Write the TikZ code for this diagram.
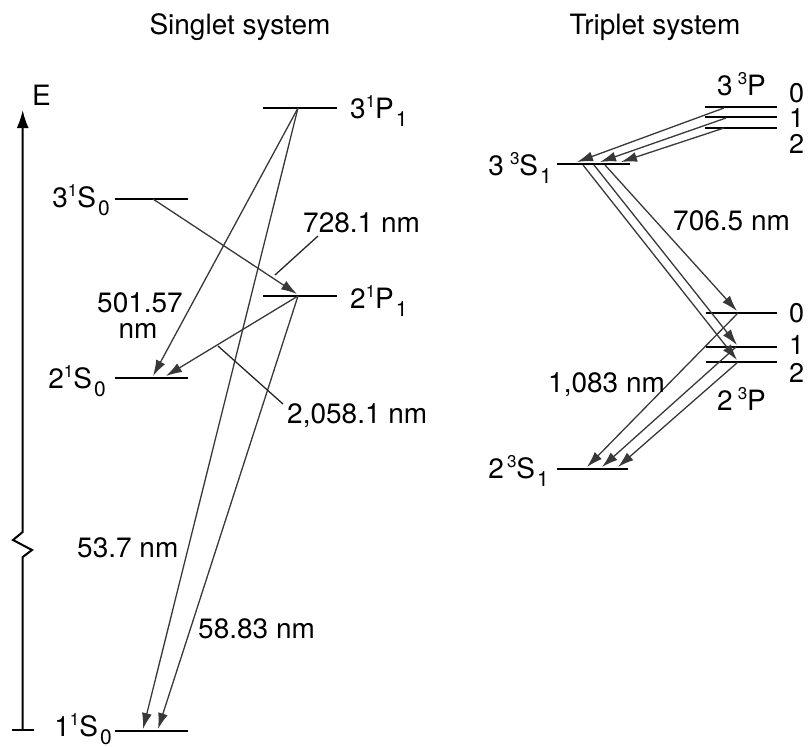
\documentclass[tikz,border=0pt]{standalone}
\usepackage{fontspec}
\setmainfont{TeX Gyre Heros}
\usetikzlibrary{arrows.meta}
\newcommand{\tsup}[1]{\raisebox{11pt}{\fontsize{17}{17}\selectfont #1}}
\newcommand{\tsub}[1]{\hspace{2pt}\raisebox{-8pt}{\fontsize{21}{21}\selectfont #1}}
\begin{document}
\begin{tikzpicture}[x=1pt,y=-1pt,
  lvl/.style={line width=2.8pt},
  tr/.style={draw=black!78, line width=1.3pt, -{Latex[length=16pt,width=10pt]}},
  lbl/.style={inner sep=0pt, font=\fontsize{28}{32}\selectfont},
  num/.style={inner sep=0pt, font=\fontsize{27}{28}\selectfont},
  lead/.style={draw=black!85, line width=1.3pt},
  axis/.style={line width=2pt}]
\useasboundingbox (0,0) rectangle (809,747);

% titles
\node[lbl,anchor=base] (t1) at (240,34) {Singlet system};
\node[lbl,anchor=base] (t2) at (655,34) {Triplet system};

% energy axis
\coordinate (ax0) at (22.7,730);
\coordinate (z1) at (22.7,557);
\coordinate (z2) at (32,550);
\coordinate (z3) at (13,540);
\coordinate (z4) at (22.7,532);
\coordinate (axtop) at (22.7,110);
\draw[axis,-{Latex[length=18pt,width=12pt]}] (ax0) -- (z1) -- (z2) -- (z3) -- (z4) -- (axtop);
\coordinate (tk1) at (12,730);
\coordinate (tk2) at (34,730);
\draw[axis] (tk1) -- (tk2);
\node[lbl,anchor=base west] (E) at (32,105) {E};

% singlet levels
\coordinate (P3l) at (263,108); \coordinate (P3r) at (337,108);
\coordinate (S3l) at (115,199); \coordinate (S3r) at (188,199);
\coordinate (P2l) at (263,296); \coordinate (P2r) at (337,296);
\coordinate (S2l) at (115,378); \coordinate (S2r) at (188,378);
\coordinate (S1l) at (115,731); \coordinate (S1r) at (188,731);
\draw[lvl] (P3l) -- (P3r);
\draw[lvl] (S3l) -- (S3r);
\draw[lvl] (P2l) -- (P2r);
\draw[lvl] (S2l) -- (S2r);
\draw[lvl] (S1l) -- (S1r);

\node[lbl,anchor=base west] (lP3) at (350,118) {3\tsup{1}P\tsub{1}};
\node[lbl,anchor=base west] (lP2) at (350,308) {2\tsup{1}P\tsub{1}};
\node[lbl,anchor=base east] (lS3) at (110,207) {3\tsup{1}S\tsub{0}};
\node[lbl,anchor=base east] (lS2) at (106,388) {2\tsup{1}S\tsub{0}};
\node[lbl,anchor=base east] (lS1) at (112,736) {1\tsup{1}S\tsub{0}};

% singlet transitions
\coordinate (aP3) at (298,108);
\coordinate (aP2) at (298,296);
\coordinate (aS3) at (153,199);
\coordinate (aP2t) at (297,294);
\coordinate (aS2a) at (153,376);
\coordinate (aS2b) at (166,376);
\coordinate (aS1a) at (143,729);
\coordinate (aS1b) at (158,729);
\draw[tr] (aS3) -- (aP2t);
\draw[tr] (aP3) -- (aS2a);
\draw[tr] (aP2) -- (aS2b);
\draw[tr] (aP3) -- (aS1a);
\draw[tr] (aP2) -- (aS1b);

% singlet wavelength labels
\node[lbl,anchor=base west] (w728) at (303,232) {728.1 nm};
\coordinate (l728a) at (318,236);
\coordinate (l728b) at (275,275);
\draw[lead] (l728a) -- (l728b);
\node[lbl,anchor=base] (w501) at (140,312) {501.57};
\node[lbl,anchor=base] (w501n) at (138,338) {nm};
\node[lbl,anchor=base west] (w2058) at (287,423) {2,058.1 nm};
\coordinate (l2058a) at (218,346);
\coordinate (l2058b) at (283,404);
\draw[lead] (l2058a) -- (l2058b);
\node[lbl,anchor=base west] (w537) at (77,557) {53.7 nm};
\node[lbl,anchor=base west] (w5883) at (198,638) {58.83 nm};

% triplet levels
\coordinate (T3P0l) at (705,107); \coordinate (T3P0r) at (777,107);
\coordinate (T3P1l) at (705,117); \coordinate (T3P1r) at (777,117);
\coordinate (T3P2l) at (705,128); \coordinate (T3P2r) at (777,128);
\coordinate (T3Sl) at (557,164); \coordinate (T3Sr) at (630,164);
\coordinate (T2P0l) at (706,313); \coordinate (T2P0r) at (777,313);
\coordinate (T2P1l) at (706,347); \coordinate (T2P1r) at (777,347);
\coordinate (T2P2l) at (706,362); \coordinate (T2P2r) at (777,362);
\coordinate (T2Sl) at (557,469); \coordinate (T2Sr) at (628,469);
\draw[lvl] (T3P0l) -- (T3P0r);
\draw[lvl] (T3P1l) -- (T3P1r);
\draw[lvl] (T3P2l) -- (T3P2r);
\draw[lvl] (T3Sl) -- (T3Sr);
\draw[lvl] (T2P0l) -- (T2P0r);
\draw[lvl] (T2P1l) -- (T2P1r);
\draw[lvl] (T2P2l) -- (T2P2r);
\draw[lvl] (T2Sl) -- (T2Sr);

\node[lbl,anchor=base west] (l3P) at (717,95) {3\hspace{5pt}\tsup{3}P};
\node[num,anchor=base west] (n30) at (789,102) {0};
\node[num,anchor=base west] (n31) at (789,127) {1};
\node[num,anchor=base west] (n32) at (789,153) {2};
\node[lbl,anchor=base east] (l3S) at (552,175) {3\hspace{6pt}\tsup{3}S\tsub{1}};
\node[num,anchor=base west] (n20) at (789,322) {0};
\node[num,anchor=base west] (n21) at (789,354) {1};
\node[num,anchor=base west] (n22) at (789,382) {2};
\node[lbl,anchor=base west] (l2P) at (717,410) {2\hspace{5pt}\tsup{3}P};
\node[lbl,anchor=base east] (l2S) at (549,478) {2\hspace{3pt}\tsup{3}S\tsub{1}};

% triplet transitions 3P -> 3S
\coordinate (s3p0) at (724,108);
\coordinate (s3p1) at (726,118);
\coordinate (s3p2) at (724,128);
\coordinate (e3s0) at (577,162);
\coordinate (e3s1) at (600,162);
\coordinate (e3s2) at (621,162);
\draw[tr] (s3p0) -- (e3s0);
\draw[tr] (s3p1) -- (e3s1);
\draw[tr] (s3p2) -- (e3s2);

% 3S -> 2P
\coordinate (s3sa) at (605,165);
\coordinate (s3sb) at (594,165);
\coordinate (s3sc) at (583,165);
\coordinate (e2p0) at (737,311);
\coordinate (e2p1) at (737,345);
\coordinate (e2p2) at (737,360);
\draw[tr] (s3sa) -- (e2p0);
\draw[tr] (s3sb) -- (e2p1);
\draw[tr] (s3sc) -- (e2p2);
\node[lbl,anchor=base west] (w7065) at (673,230) {706.5 nm};

% 2P -> 2S
\coordinate (s2p0) at (738,313);
\coordinate (s2p1) at (736,347);
\coordinate (s2p2) at (738,362);
\coordinate (e2s0) at (587,467);
\coordinate (e2s1) at (602,467);
\coordinate (e2s2) at (618,467);
\draw[tr] (s2p0) -- (e2s0);
\draw[tr] (s2p1) -- (e2s1);
\draw[tr] (s2p2) -- (e2s2);
\node[lbl,anchor=base west] (w1083) at (548,392) {1,083 nm};
\end{tikzpicture}
\end{document}
